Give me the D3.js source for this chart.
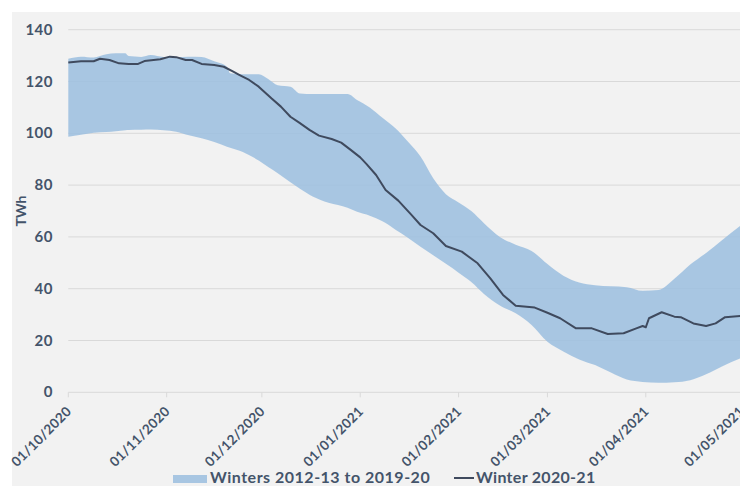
<!DOCTYPE html>
<html>
<head>
<meta charset="utf-8">
<script src="https://cdn.jsdelivr.net/npm/d3@7"></script>
<style>
  body { margin: 0; background: #fff; }
  text { font-family: Lato, "Open Sans", sans-serif; font-weight: bold; fill: #44546a; }
</style>
</head>
<body>
<div id="chart"></div>
<script>
// band of previous winters (min / max) on shared dates
var bandDates = ["2020-10-01","2020-10-05","2020-10-09","2020-10-13","2020-10-16","2020-10-19","2020-10-20","2020-10-24","2020-10-27","2020-10-31",
    "2020-11-04","2020-11-08","2020-11-12","2020-11-16","2020-11-20","2020-11-21","2020-11-25","2020-11-30",
    "2020-12-03","2020-12-06","2020-12-10","2020-12-13","2020-12-17","2020-12-22","2020-12-28","2020-12-31",
    "2021-01-04","2021-01-08","2021-01-12","2021-01-16","2021-01-20","2021-01-24","2021-01-28",
    "2021-02-01","2021-02-05","2021-02-09","2021-02-14","2021-02-19","2021-02-24",
    "2021-03-01","2021-03-06","2021-03-11","2021-03-16","2021-03-21","2021-03-26","2021-03-31",
    "2021-04-05","2021-04-10","2021-04-15","2021-04-20","2021-04-25","2021-05-01"];
var bandMax = [128.8,129.6,129.3,130.5,130.9,130.9,129.8,129.5,130.2,129.5,
    129.5,129.6,129.5,127.8,125.7,123.2,122.8,122.8,
    121,118.6,118,115.4,115.2,115.2,115.2,112.9,
    110,106,102,96.8,91,82.6,76.5,
    73.3,70,65.3,60,57,54.6,
    49.5,45,42.4,41.3,40.9,40.6,39.2,
    39.5,43.8,49.3,53.8,58.7,64.5];
var bandMin = [98.7,99.4,100.2,100.5,100.8,101.2,101.3,101.4,101.5,101.2,
    100.6,99.2,98.1,96.6,94.8,94.4,92.8,89.5,
    87,84.6,81.1,78.6,75.6,73.2,71.3,69.7,
    68.2,66,62.9,59.7,56.2,52.9,49.6,
    46.2,42.6,38,33.5,30.5,26,
    19.5,15.8,12.7,10.5,7.6,4.9,4,
    3.7,3.9,4.7,7,10,13.2];

// winter 2020-21
var lineDates = ["2020-10-01","2020-10-05","2020-10-09","2020-10-11","2020-10-14","2020-10-17","2020-10-20","2020-10-23","2020-10-25","2020-10-30",
    "2020-11-02","2020-11-04","2020-11-07","2020-11-09","2020-11-12","2020-11-16","2020-11-19","2020-11-22","2020-11-24","2020-11-27","2020-11-30",
    "2020-12-04","2020-12-07","2020-12-10","2020-12-13","2020-12-16","2020-12-19","2020-12-23","2020-12-26","2020-12-29",
    "2021-01-01","2021-01-03","2021-01-06","2021-01-09","2021-01-13","2021-01-17","2021-01-20","2021-01-24","2021-01-28",
    "2021-02-02","2021-02-07","2021-02-11","2021-02-15","2021-02-19","2021-02-25",
    "2021-03-01","2021-03-05","2021-03-10","2021-03-15","2021-03-20","2021-03-25","2021-03-29","2021-03-31",
    "2021-04-01","2021-04-02","2021-04-06","2021-04-10","2021-04-12","2021-04-16","2021-04-20","2021-04-23","2021-04-26","2021-05-01"];
var lineVals = [127.3,127.8,127.8,128.8,128.3,127,126.8,126.8,127.9,128.6,
    129.6,129.4,128.3,128.3,126.8,126.4,125.7,123.8,122.5,120.6,118,
    113.5,110.3,106.4,103.9,101.3,99.1,97.8,96.4,93.6,
    90.7,88.1,83.9,78.1,74,68.7,64.6,61.4,56.5,
    54.3,49.8,44,37.6,33.4,32.7,
    30.7,28.6,24.7,24.7,22.5,22.8,24.7,25.6,
    25.1,28.6,30.9,29.2,29,26.6,25.6,26.6,29,29.5];

var yTicks = [0,20,40,60,80,100,120,140];

var w = 751, h = 486;
var parse = d3.timeParse("%Y-%m-%d");

var svg = d3.select("#chart").append("svg")
    .attr("width", w)
    .attr("height", h);

svg.append("defs").append("clipPath").attr("id", "cut")
  .append("rect").attr("x", 0).attr("y", 0).attr("width", 740).attr("height", h);

var g = svg.append("g").attr("clip-path", "url(#cut)");

g.append("rect")
    .attr("x", 12).attr("y", 12)
    .attr("width", 740 - 12).attr("height", h - 12)
    .style("fill", "#f2f2f2");

var x = d3.scaleTime()
    .domain([parse("2020-10-01"), parse("2021-05-01")])
    .range([68.3, 741]);
var y = d3.scaleLinear()
    .domain([0, 140])
    .range([392.3, 29.7]);

// gridlines
g.selectAll(".grid").data(yTicks).enter()
  .append("line")
    .attr("x1", x.range()[0]).attr("x2", x.range()[1])
    .attr("y1", function(d){ return y(d); })
    .attr("y2", function(d){ return y(d); })
    .style("stroke", "#d9d9d9")
    .style("stroke-width", 1);

// y labels
g.selectAll(".ylab").data(yTicks).enter()
  .append("text")
    .attr("x", 53)
    .attr("y", function(d){ return y(d) + 5; })
    .attr("text-anchor", "end")
    .style("font-size", "15px")
    .style("letter-spacing", "0.5px")
    .text(function(d){ return d; });

g.append("text")
    .attr("transform", "translate(26,211) rotate(-90)")
    .attr("text-anchor", "middle")
    .style("font-size", "14px")
    .text("TWh");

// band
var band = bandDates.map(function(d, i){ return {date: parse(d), lo: bandMin[i], hi: bandMax[i]}; });
var area = d3.area()
    .x(function(d){ return x(d.date); })
    .y0(function(d){ return y(d.lo); })
    .y1(function(d){ return y(d.hi); })
    .curve(d3.curveMonotoneX);
g.append("path")
    .datum(band)
    .attr("d", area)
    .style("fill", "rgb(155,190,223)")
    .style("fill-opacity", 0.85);

// x axis ticks
var months = d3.timeMonth.range(parse("2020-10-01"), parse("2021-05-02"));
g.selectAll(".tick").data(months).enter()
  .append("line")
    .attr("x1", function(d){ return x(d); }).attr("x2", function(d){ return x(d); })
    .attr("y1", y(0)).attr("y2", y(0) + 5)
    .style("stroke", "#d9d9d9");

var fmt = d3.timeFormat("%d/%m/%Y");
g.selectAll(".xlab").data(months).enter()
  .append("text")
    .attr("transform", function(d){ return "translate(" + (x(d) + 4) + "," + (y(0) + 20) + ") rotate(-45)"; })
    .attr("text-anchor", "end")
    .style("font-size", "13.5px")
    .style("letter-spacing", "0.3px")
    .text(function(d){ return fmt(d); });

// 2020-21 line
var pts = lineDates.map(function(d, i){ return {date: parse(d), v: lineVals[i]}; });
var line = d3.line()
    .x(function(d){ return x(d.date); })
    .y(function(d){ return y(d.v); });
g.append("path")
    .datum(pts)
    .attr("d", line)
    .style("fill", "none")
    .style("stroke", "#3f4a5e")
    .style("stroke-width", 2)
    .style("stroke-linejoin", "round");

// legend
var legend = g.append("g").attr("class", "legend");
legend.append("rect")
    .attr("x", 173).attr("y", 475)
    .attr("width", 34).attr("height", 8)
    .style("fill", "rgb(168,198,226)");
legend.append("text")
    .attr("x", 210).attr("y", 483)
    .style("font-size", "16px")
    .style("letter-spacing", "0.5px")
    .text("Winters 2012-13 to 2019-20");
legend.append("line")
    .attr("x1", 454).attr("x2", 474)
    .attr("y1", 478).attr("y2", 478)
    .style("stroke", "#3f4a5e")
    .style("stroke-width", 2);
legend.append("text")
    .attr("x", 476).attr("y", 483)
    .style("font-size", "16px")
    .style("letter-spacing", "0.3px")
    .text("Winter 2020-21");
</script>
</body>
</html>
